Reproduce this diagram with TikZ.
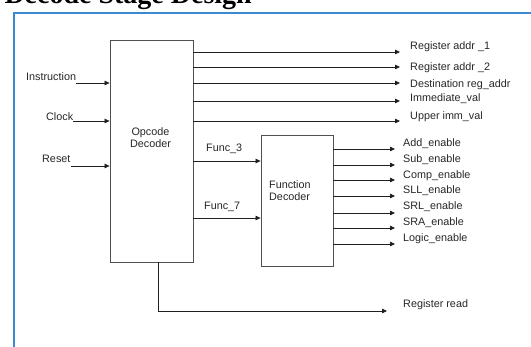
\documentclass[tikz,border=0pt]{standalone}
\usepackage{fontspec}
\setmainfont{Liberation Sans}
\newfontfamily\titlefont{Liberation Serif}
\usetikzlibrary{arrows.meta}
\definecolor{framecol}{HTML}{3A8AD0}
\definecolor{boxcol}{HTML}{505050}
\definecolor{wirecol}{HTML}{202020}
\tikzset{
  blockbox/.style={draw=boxcol, line width=0.8pt, fill=white, inner sep=0pt},
  wire/.style={draw=wirecol, line width=0.75pt, -{Triangle[length=5pt,width=4.5pt]}},
  lbl/.style={font=\fontsize{10.8}{12}\selectfont, anchor=west, inner sep=0pt, text=black!85},
}
\begin{document}
\begin{tikzpicture}[x=1pt,y=-1pt]
\useasboundingbox (0,0) rectangle (531,347);
\clip (0,0) rectangle (531,347);
% title (cut off at the top)
\node[anchor=base east, inner sep=0pt, font=\titlefont\bfseries\fontsize{28}{30}\selectfont] (title) at (252,4) {2 Decode Stage Design};
% frame
\draw[framecol, line width=1.6pt] (14,360) -- (14,13) -- (540,13);
% blocks
\node[blockbox, minimum width=83pt, minimum height=222pt] (opc) at (151.5,151) {};
\node[align=center, font=\fontsize{10.8}{12}\selectfont, text=black!85, inner sep=0pt] (opctxt) at (150.5,138) {Opcode\\Decoder};
\node[blockbox, minimum width=72pt, minimum height=131pt] (fdec) at (297,200.5) {};
\node[align=left, font=\fontsize{10.8}{12}\selectfont, text=black!85, inner sep=0pt, anchor=west] (fdtxt) at (269,191) {Function\\Decoder};
% inputs
\node[lbl] (instr) at (26,77) {Instruction};
\node[lbl] (clk) at (46,117) {Clock};
\node[lbl] (rst) at (42,159) {Reset};
\coordinate (i1) at (76,83);
\coordinate (i2) at (73,121);
\coordinate (i3) at (71,166);
\draw[wire] (i1) -- (i1 -| opc.west);
\draw[wire] (i2) -- (i2 -| opc.west);
\draw[wire] (i3) -- (i3 -| opc.west);
% opcode outputs
\foreach \y/\ly/\t/\n in {52/47/{Register addr \_1}/o1, 67/68/{Register addr \_2}/o2, 83/85/{Destination reg\_addr}/o3, 101/99/{Immediate\_val}/o4, 121/117/{Upper imm\_val}/o5}{
  \coordinate (\n s) at (193,\y);
  \coordinate (\n e) at (400,\y);
  \node[lbl] (\n) at (410,\ly) {\t};
  \draw[wire] (\n s) -- (\n e);
}
% func wires
\coordinate (f3s) at (193,161);
\coordinate (f7s) at (193,218);
\draw[wire] (f3s) -- (f3s -| fdec.west);
\draw[wire] (f7s) -- (f7s -| fdec.west);
\node[lbl] (f3) at (206,149) {Func\_3};
\node[lbl] (f7) at (204,207) {Func\_7};
% function decoder outputs
\foreach \y/\ly/\t/\n in {149/144/{Add\_enable}/a1, 165/160/{Sub\_enable}/a2, 180/176/{Comp\_enable}/a3, 196/191/{SLL\_enable}/a4, 213/207/{SRL\_enable}/a5, 228/223/{SRA\_enable}/a6, 244/239/{Logic\_enable}/a7}{
  \coordinate (\n s) at (333,\y);
  \coordinate (\n e) at (395,\y);
  \node[lbl] (\n) at (403,\ly) {\t};
  \draw[wire] (\n s) -- (\n e);
}
% register read
\coordinate (rrs) at (158,262);
\coordinate (rrc) at (158,311);
\coordinate (rre) at (387,311);
\draw[wire] (rrs) -- (rrc) -- (rre);
\node[lbl] (rr) at (403,305) {Register read};
\end{tikzpicture}
\end{document}
